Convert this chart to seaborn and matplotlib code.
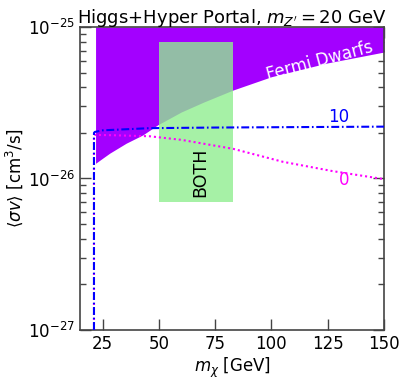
import numpy as np
import pandas as pd
import matplotlib
matplotlib.use("Agg")
import matplotlib.pyplot as plt
import seaborn as sns

# Fermi dwarfs limit (upper region excluded)
fermi_mx = [21.9, 25, 28.2, 35.5, 42.9, 49.5, 60, 70, 83, 100, 125, 150]
fermi_sv = [1.26e-26, 1.36e-26, 1.47e-26, 1.71e-26, 1.94e-26, 2.26e-26,
            2.75e-26, 3.2e-26, 3.84e-26, 4.7e-26, 5.8e-26, 6.84e-26]

# relic curves, labelled by parameter value
curve_10_mx = [21.2, 21.2, 21.6, 25, 46, 75, 100, 125, 150]
curve_10_sv = [1e-27, 2.0e-26, 2.03e-26, 2.08e-26, 2.15e-26, 2.17e-26, 2.18e-26, 2.19e-26, 2.2e-26]
curve_0_mx = [21.2, 21.2, 21.6, 30, 46, 60, 83, 105, 127, 150]
curve_0_sv = [1e-27, 1.94e-26, 1.94e-26, 1.93e-26, 1.9e-26, 1.8e-26, 1.57e-26,
              1.29e-26, 1.12e-26, 9.9e-27]

# region where both constraints are satisfied
both_mx = [50, 83]
both_sv = [7e-27, 8e-26]

sns.set_style("ticks")
plt.rcParams["font.family"] = ["DejaVu Sans"]
plt.rcParams["mathtext.fontset"] = "dejavusans"
plt.rcParams["text.color"] = "black"
plt.rcParams["axes.labelcolor"] = "black"
plt.rcParams["xtick.labelcolor"] = "black"
plt.rcParams["ytick.labelcolor"] = "black"

fig = plt.figure(figsize=(4.07, 3.81), dpi=100)
ax = fig.add_axes([0.1966, 0.134, 0.7469, 0.795])

ax.fill_between(fermi_mx, fermi_sv, 1e-25, color="#a300ff", lw=0, zorder=1)
ax.fill_between(both_mx, both_sv[0], both_sv[1], color="lightgreen", alpha=0.8, lw=0, zorder=2)

df10 = pd.DataFrame({"mx": curve_10_mx, "sv": curve_10_sv})
df0 = pd.DataFrame({"mx": curve_0_mx, "sv": curve_0_sv})
sns.lineplot(data=df0, x="mx", y="sv", sort=False, estimator=None, ax=ax,
             color="#ff00ff", lw=1.5, linestyle=(0, (1, 1.4)), zorder=3)
sns.lineplot(data=df10, x="mx", y="sv", sort=False, estimator=None, ax=ax,
             color="blue", lw=1.5, linestyle=(0, (3.8, 1.3, 0.8, 1.3)), zorder=4)

ax.set_yscale("log")
ax.set_xlim(15, 150)
ax.set_ylim(1e-27, 1e-25)
ax.set_xticks([25, 50, 75, 100, 125, 150])

ax.text(121.5, 6.0e-26, "Fermi Dwarfs", color="white", fontsize=12, rotation=15,
        ha="center", va="center")
ax.text(68.5, 1.1e-26, "BOTH", color="black", fontsize=12.5, rotation=90,
        ha="center", va="center")
ax.text(130, 2.55e-26, "10", color="blue", fontsize=12, ha="center", va="center")
ax.text(132.5, 9.8e-27, "0", color="#ff00ff", fontsize=12, ha="center", va="center")

ax.set_title(r"Higgs+Hyper Portal, $m_{Z'} = 20$ GeV", fontsize=13, pad=3, color="black")
ax.set_xlabel(r"$m_\chi$ [GeV]", fontsize=12, labelpad=2)
ax.set_ylabel(r"$\langle\sigma v\rangle$ [cm$^3$/s]", fontsize=12, labelpad=2)

ax.tick_params(which="both", direction="in", top=True, right=True, labelsize=12,
               color="#444444", labelcolor="black")
ax.tick_params(which="major", length=8, width=1)
ax.tick_params(which="minor", length=4, width=1)
ax.tick_params(axis="x", which="minor", bottom=False, top=False)
for sp in ax.spines.values():
    sp.set_color("#444444")
    sp.set_linewidth(1.2)

fig.savefig("out.png", dpi=100)
